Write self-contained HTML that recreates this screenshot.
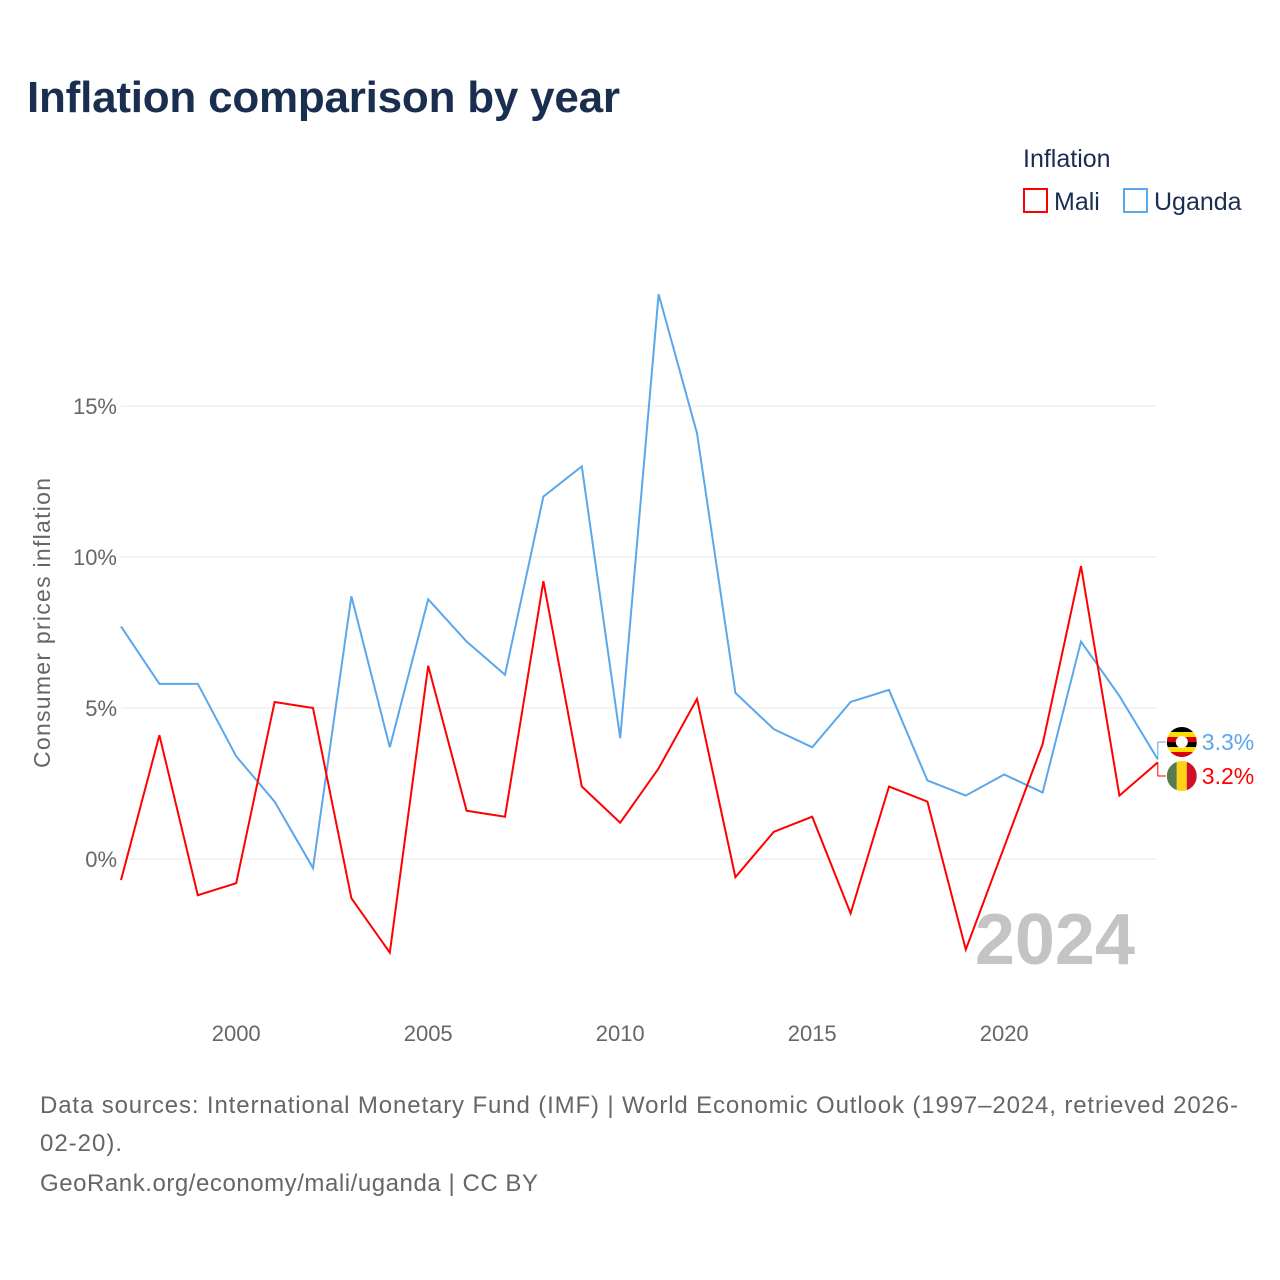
<!DOCTYPE html>
<html><head><meta charset="utf-8"><style>
body{margin:0;background:#fff;font-family:"Liberation Sans",sans-serif;}
#wrap{position:relative;width:1280px;height:1280px;overflow:hidden;}
</style></head><body>
<div id="wrap">
<svg id="chart" width="1280" height="1280">
<text x="27" y="112" font-size="44" font-weight="bold" fill="#1a2e4f" textLength="593">Inflation comparison by year</text>
<g>
<text x="1023" y="167" font-size="25" fill="#1a2e4f">Inflation</text>
<g><rect x="1024" y="189" width="23" height="23" fill="none" stroke="#f00" stroke-width="2"/><text x="1054" y="210" font-size="25" fill="#1a2e4f">Mali</text></g>
<g><rect x="1124" y="189" width="23" height="23" fill="none" stroke="#5aa7ec" stroke-width="2"/><text x="1154" y="210" font-size="25" fill="#1a2e4f">Uganda</text></g>
</g>
<text transform="translate(50,623) rotate(-90)" text-anchor="middle" font-size="23" fill="#666" textLength="290">Consumer prices inflation</text>
<text x="1135" y="964" text-anchor="end" font-size="72" font-weight="bold" fill="#c4c4c4">2024</text>
<g id="grid"></g><g id="series"></g>
<text x="40" y="1113" font-size="24" fill="#666" textLength="1198">Data sources: International Monetary Fund (IMF) | World Economic Outlook (1997–2024, retrieved 2026-</text>
<text x="40" y="1151" font-size="24" fill="#666" textLength="82">02-20).</text>
<text x="40" y="1191" font-size="24" fill="#666" textLength="498">GeoRank.org/economy/mali/uganda | CC BY</text>
</svg></div>
<script>
const years=[1997,1998,1999,2000,2001,2002,2003,2004,2005,2006,2007,2008,2009,2010,2011,2012,2013,2014,2015,2016,2017,2018,2019,2020,2021,2022,2023,2024];
const uganda=[7.7,5.8,5.8,3.4,1.9,-0.3,8.7,3.7,8.6,7.2,6.1,12.0,13.0,4.0,18.7,14.1,5.5,4.3,3.7,5.2,5.6,2.6,2.1,2.8,2.2,7.2,5.4,3.3];
const mali=[-0.7,4.1,-1.2,-0.8,5.2,5.0,-1.3,-3.1,6.4,1.6,1.4,9.2,2.4,1.2,3.0,5.3,-0.6,0.9,1.4,-1.8,2.4,1.9,-3.0,0.4,3.8,9.7,2.1,3.2];
const yTicks=[0,5,10,15];
const xTicks=[2000,2005,2010,2015,2020];
const NS="http://www.w3.org/2000/svg";
const X=y=>121+(y-1997)*38.4;
const Y=v=>859-v*30.2;
const grid=document.getElementById('grid'),ser=document.getElementById('series');
function mk(tag,at,par){const e=document.createElementNS(NS,tag);for(const k in at)e.setAttribute(k,at[k]);par.appendChild(e);return e;}
yTicks.forEach(t=>{
 const l=mk('line',{x1:121,x2:1157,y1:Y(t),y2:Y(t),stroke:'#ebe6ea','stroke-width':1},grid);
 
 
 const tx=mk('text',{x:117,y:Y(t)+8,'text-anchor':'end','font-size':22,fill:'#666'},grid);tx.textContent=t+'%';
 
 
});
xTicks.forEach(t=>{
 const tx=mk('text',{x:X(t),y:1041,'text-anchor':'middle','font-size':22,fill:'#666'},grid);tx.textContent=t;
 
 
});
function line(vals,color,name){
 const p=mk('polyline',{points:vals.map((v,i)=>X(years[i])+','+Y(v)).join(' '),fill:'none',stroke:color,'stroke-width':2},ser);
 
 
}
line(uganda,'#5aa7ec','uganda-line');
line(mali,'#f00','mali-line');
const lx=X(2024);
function endLabel(v,ly,color,name,flag){
 mk('polyline',{points:`${lx},${Y(v)} ${lx},${ly} ${lx+8},${ly}`,fill:'none',stroke:color,'stroke-width':1},ser);
 const g=mk('g',{},ser);
 
 
 if(flag==='ug'){['#000','#fcdc04','#d90000','#000','#fcdc04','#d90000'].forEach((c,i)=>mk('rect',{x:lx+9,y:ly-15+i*5,width:30,height:5,fill:c},g));
  mk('circle',{cx:lx+24,cy:ly,r:6,fill:'#fff'},g);}
 else{['#5a7a52','#fcd116','#ce1126'].forEach((c,i)=>mk('rect',{x:lx+9+i*10,y:ly-15,width:10,height:30,fill:c},g));}
 const cp='cp'+flag;const d=mk('clipPath',{id:cp},ser);mk('circle',{cx:lx+24,cy:ly,r:15},d);g.setAttribute('clip-path','url(#'+cp+')');
 const t=mk('text',{x:lx+44,y:ly+8,'font-size':23,fill:color},ser);t.textContent=v.toFixed(1)+'%';
 
 
}
endLabel(uganda[uganda.length-1],742,'#5aa7ec','uganda','ug');
endLabel(mali[mali.length-1],776,'#f00','mali','ml');
</script>
</body></html>
